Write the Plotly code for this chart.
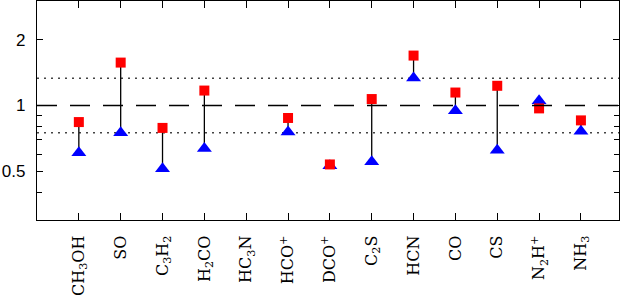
import plotly.graph_objects as go
import math

# molecules (tick labels) and the two ratios per molecule
molecules = ["CH<sub>3</sub>OH", "SO", "C<sub>3</sub>H<sub>2</sub>", "H<sub>2</sub>CO",
             "HC<sub>3</sub>N", "HCO<sup>+</sup>", "DCO<sup>+</sup>", "C<sub>2</sub>S",
             "HCN", "CO", "CS", "N<sub>2</sub>H<sup>+</sup>", "NH<sub>3</sub>"]
red_vals = [0.84, 1.57, 0.79, 1.17, None, 0.877, 0.538, 1.07, 1.69, 1.146, 1.23, 0.97, 0.855]
blue_vals = [0.608, 0.75, 0.514, 0.636, None, 0.757, 0.53, 0.553, 1.336, 0.946, 0.625, 1.05, 0.762]

ref_dotted = [0.75, 1.333]
ref_dashed = [1.0]

y_major = [0.5, 1, 2]
y_minor = [0.3, 0.4, 0.6, 0.7, 0.8, 0.9, 3]

fig = go.Figure()

# linhas verticais ligando os dois pontos
lx, ly = [], []
for m, r, b in zip(molecules, red_vals, blue_vals):
    if r is None or b is None:
        continue
    lx += [m, m, None]
    ly += [r, b, None]
fig.add_trace(go.Scatter(x=lx, y=ly, mode="lines",
                         line=dict(color="black", width=1.3), showlegend=False))

fig.add_trace(go.Scatter(x=molecules, y=blue_vals, mode="markers",
                         marker=dict(symbol="triangle-up", size=13, color="#0000ff", line_width=0),
                         showlegend=False))
fig.add_trace(go.Scatter(x=molecules, y=red_vals, mode="markers",
                         marker=dict(symbol="square", size=10, color="#ff0000", line_width=0),
                         showlegend=False))

for v in ref_dotted:
    fig.add_hline(y=v, line=dict(color="#444444", width=1.5, dash="2px,5px"), layer="below")
for v in ref_dashed:
    fig.add_hline(y=v, line=dict(color="black", width=1.3, dash="20px,13px"), layer="above")

fig.update_xaxes(
    type="category", categoryorder="array", categoryarray=molecules,
    range=[-1, 12.91], tickangle=-90, automargin=False,
    ticks="inside", ticklen=7, tickcolor="black",
    showline=True, linecolor="black", linewidth=1.3, mirror="ticks",
    showgrid=False, zeroline=False,
    tickfont=dict(family="DejaVu Serif", size=16, color="black"),
    ticklabelstandoff=8,
)
fig.update_yaxes(
    type="log", range=[math.log10(0.3), math.log10(3)],
    tickvals=y_major, ticktext=["0.5", "1", "2"], automargin=False,
    ticks="inside", ticklen=6, tickcolor="black",
    minor=dict(tickvals=y_minor, ticks="inside", ticklen=5, tickcolor="black", showgrid=False),
    showline=True, linecolor="black", linewidth=1.3, mirror="ticks",
    showgrid=False, zeroline=False,
    tickfont=dict(family="Liberation Sans", size=17, color="black"),
    ticklabelstandoff=7,
)

fig.update_layout(
    width=624, height=301,
    margin=dict(l=37, r=5, t=1, b=81),
    plot_bgcolor="white", paper_bgcolor="white",
)

# sem margem do body, para a figura ocupar a janela inteira
fig.write_html("out.html", config={"displayModeBar": False},
               post_script="document.body.style.margin='0';")
